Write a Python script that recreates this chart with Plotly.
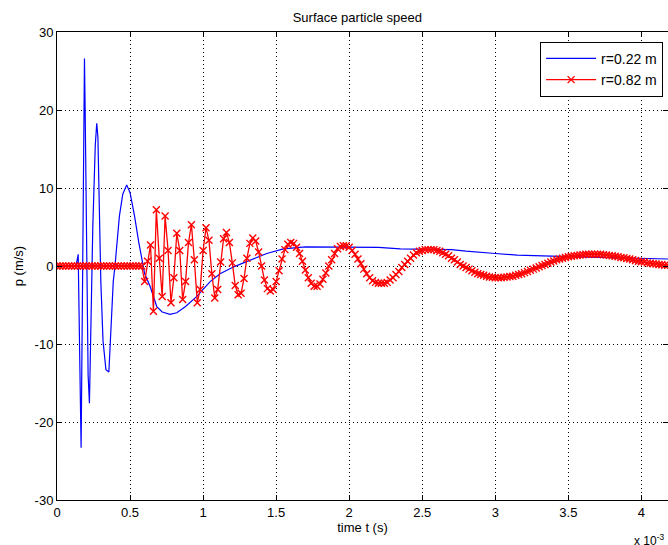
import plotly.graph_objects as go

# ---- data (time in units of 1e-3 s) ----
t_blue = [0.00, 0.13, 0.145, 0.155, 0.165, 0.175, 0.183, 0.188, 0.193, 0.203,
          0.213, 0.222, 0.232, 0.245, 0.262, 0.272, 0.280, 0.290, 0.300, 0.315,
          0.335, 0.355, 0.370, 0.385, 0.397, 0.427, 0.450, 0.477, 0.500, 0.530,
          0.560, 0.600, 0.637, 0.683, 0.720, 0.774, 0.820, 0.880, 0.957, 1.048,
          1.116, 1.200, 1.276, 1.360, 1.436, 1.550, 1.640, 1.700, 2.200, 2.350,
          2.700, 2.800, 3.000, 3.150, 3.500, 4.000, 4.182]
v_blue = [0.0, 0.0, 1.5, -11.8, -23.3, -2.0, 18.3, 26.6, 19.5, 0.0,
          -14.0, -17.6, -5.0, 5.0, 15.5, 18.3, 16.5, 7.0, -2.0, -9.6,
          -13.3, -13.6, -8.0, -2.0, 0.0, 6.4, 9.2, 10.4, 9.4, 6.5,
          3.0, -1.0, -2.6, -5.2, -5.9, -6.2, -6.0, -5.2, -3.9, -2.0,
          -1.0, -0.2, 0.4, 1.0, 1.6, 2.2, 2.4, 2.45, 2.4, 2.2,
          2.1, 1.9, 1.6, 1.4, 1.2, 1.0, 0.9]

t_red = [0.00, 0.02, 0.04, 0.06, 0.08, 0.10, 0.12, 0.14, 0.16, 0.18,
         0.20, 0.22, 0.24, 0.26, 0.28, 0.30, 0.32, 0.34, 0.36, 0.38,
         0.40, 0.42, 0.44, 0.46, 0.48, 0.50, 0.52, 0.54, 0.56, 0.58,
         0.60, 0.62, 0.64, 0.66, 0.68, 0.70, 0.72, 0.74, 0.76, 0.78,
         0.80, 0.82, 0.84, 0.86, 0.88, 0.90, 0.92, 0.94, 0.96, 0.98,
         1.00, 1.02, 1.04, 1.06, 1.08, 1.10, 1.12, 1.14, 1.16, 1.18,
         1.20, 1.22, 1.24, 1.26, 1.28, 1.30, 1.32, 1.34, 1.36, 1.38,
         1.40, 1.42, 1.44, 1.46, 1.48, 1.50, 1.52, 1.54, 1.56, 1.58,
         1.60, 1.62, 1.64, 1.66, 1.68, 1.70, 1.72, 1.74, 1.76, 1.78,
         1.80, 1.82, 1.84, 1.86, 1.88, 1.90, 1.92, 1.94, 1.96, 1.98,
         2.00, 2.02, 2.04, 2.06, 2.08, 2.10, 2.12, 2.14, 2.16, 2.18,
         2.20, 2.22, 2.24, 2.26, 2.28, 2.30, 2.32, 2.34, 2.36, 2.38,
         2.40, 2.42, 2.44, 2.46, 2.48, 2.50, 2.52, 2.54, 2.56, 2.58,
         2.60, 2.62, 2.64, 2.66, 2.68, 2.70, 2.72, 2.74, 2.76, 2.78,
         2.80, 2.82, 2.84, 2.86, 2.88, 2.90, 2.92, 2.94, 2.96, 2.98,
         3.00, 3.02, 3.04, 3.06, 3.08, 3.10, 3.12, 3.14, 3.16, 3.18,
         3.20, 3.22, 3.24, 3.26, 3.28, 3.30, 3.32, 3.34, 3.36, 3.38,
         3.40, 3.42, 3.44, 3.46, 3.48, 3.50, 3.52, 3.54, 3.56, 3.58,
         3.60, 3.62, 3.64, 3.66, 3.68, 3.70, 3.72, 3.74, 3.76, 3.78,
         3.80, 3.82, 3.84, 3.86, 3.88, 3.90, 3.92, 3.94, 3.96, 3.98,
         4.00, 4.02, 4.04, 4.06, 4.08, 4.10, 4.12, 4.14, 4.16, 4.18]
v_red = [0, 0, 0, 0, 0, 0, 0, 0, 0, 0,
         0, 0, 0, 0, 0, 0, 0, 0, 0, 0,
         0, 0, 0, 0, 0, 0, 0, 0, 0, 0,
         -2.0, 0.6, 2.7, -5.8, 7.2, 1.0, -3.9, 6.4, 2.0, -4.7,
         -1.5, 4.2, 2.0, -4.3, -2.0, 3.0, 5.3, 0.8, -4.7, -3.0,
         2.0, 4.9, 3.3, -1.0, -4.1, -3.0, 0.5, 3.5, 4.3, 3.0,
         0.4, -2.5, -3.7, -3.5, -1.6, 1.0, 2.9, 3.6, 3.2, 1.8,
         0.0, -1.8, -2.9, -3.2, -3.0, -2.0, -0.6, 0.9, 2.1, 2.8,
         3.0, 2.9, 2.4, 1.6, 0.6, -0.5, -1.5, -2.2, -2.6, -2.6,
         -2.3, -1.7, -0.9, 0.0, 0.8, 1.6, 2.2, 2.5, 2.6, 2.6,
         2.4, 2.0, 1.5, 0.9, 0.3, -0.4, -1.0, -1.5, -1.9, -2.1,
         -2.2, -2.2, -2.2, -2.1, -1.8, -1.5, -1.1, -0.7, -0.2, 0.2,
         0.6, 1.0, 1.4, 1.7, 1.9, 2.0, 2.1, 2.1, 2.1, 2.1,
         2.0, 1.9, 1.7, 1.5, 1.3, 1.0, 0.8, 0.5, 0.2, 0.0,
         -0.2, -0.4, -0.6, -0.8, -1.0, -1.1, -1.2, -1.3, -1.4, -1.45,
         -1.5, -1.5, -1.5, -1.45, -1.4, -1.35, -1.3, -1.2, -1.1, -1.0,
         -0.85, -0.7, -0.55, -0.4, -0.25, -0.1, 0.05, 0.2, 0.35, 0.5,
         0.65, 0.8, 0.9, 1.0, 1.1, 1.2, 1.25, 1.3, 1.35, 1.4,
         1.45, 1.5, 1.5, 1.5, 1.5, 1.5, 1.5, 1.45, 1.4, 1.35,
         1.3, 1.25, 1.2, 1.1, 1.05, 0.95, 0.9, 0.8, 0.7, 0.6,
         0.55, 0.5, 0.4, 0.35, 0.3, 0.25, 0.2, 0.15, 0.1, 0.1]

x_ticks = [0, 0.5, 1, 1.5, 2, 2.5, 3, 3.5, 4]
x_tick_labels = ["0", "0.5", "1", "1.5", "2", "2.5", "3", "3.5", "4"]
y_ticks = [-30, -20, -10, 0, 10, 20, 30]
y_tick_labels = ["-30", "-20", "-10", "0", "10", "20", "30"]

FONT = "Liberation Sans, Arial, sans-serif"

fig = go.Figure()
fig.add_trace(go.Scatter(
    x=t_blue, y=v_blue, mode="lines", name="r=0.22 m",
    line=dict(color="#0000FF", width=1.2),
))
fig.add_trace(go.Scatter(
    x=t_red, y=v_red, mode="lines+markers", name="r=0.82 m",
    line=dict(color="#FF0000", width=1.3),
    marker=dict(symbol="x-thin", size=7, color="#FF0000",
                line=dict(color="#FF0000", width=1.4)),
))

axis_common = dict(
    showline=True, linecolor="black", linewidth=1, mirror="ticks",
    ticks="inside", ticklen=5, tickcolor="black",
    showgrid=True, gridcolor="black", gridwidth=1, griddash="1px,3px",
    zeroline=False, automargin=False,
    tickfont=dict(family=FONT, size=13, color="black"),
)

fig.update_xaxes(range=[0, 4.182], tickvals=x_ticks, ticktext=x_tick_labels,
                 title=dict(text="time t (s)", font=dict(family=FONT, size=13, color="black"),
                            standoff=4),
                 **axis_common)
fig.update_yaxes(range=[-30, 30], tickvals=y_ticks, ticktext=y_tick_labels,
                 title=dict(text="p (m/s)", font=dict(family=FONT, size=13, color="black"),
                            standoff=8),
                 **axis_common)

fig.update_layout(
    width=668, height=545,
    margin=dict(l=57, r=0, t=32, b=45),
    paper_bgcolor="white", plot_bgcolor="white",
    title=dict(text="Surface particle speed", x=0.535, xanchor="center",
               y=0.968, yanchor="middle",
               font=dict(family=FONT, size=13, color="black")),
    legend=dict(x=0.992, y=0.979, xanchor="right", yanchor="top",
                bgcolor="white", bordercolor="black", borderwidth=1,
                itemwidth=50, tracegroupgap=0,
                font=dict(family=FONT, size=14, color="black")),
    showlegend=True,
)

fig.add_annotation(
    text="x 10<sup>-3</sup>", xref="paper", yref="paper",
    x=(632 - 57) / 611, y=-(530 - 500) / 468, xanchor="left", yanchor="top",
    showarrow=False, font=dict(family=FONT, size=12, color="black"),
)

fig.write_html("out.html", config={"displayModeBar": False})

# remove the browser's default body margin so the figure sits at the page origin
with open("out.html", "r", encoding="utf-8") as f:
    html = f.read()
html = html.replace("<body>", '<body style="margin:0;padding:0;overflow:hidden">', 1)
with open("out.html", "w", encoding="utf-8") as f:
    f.write(html)
